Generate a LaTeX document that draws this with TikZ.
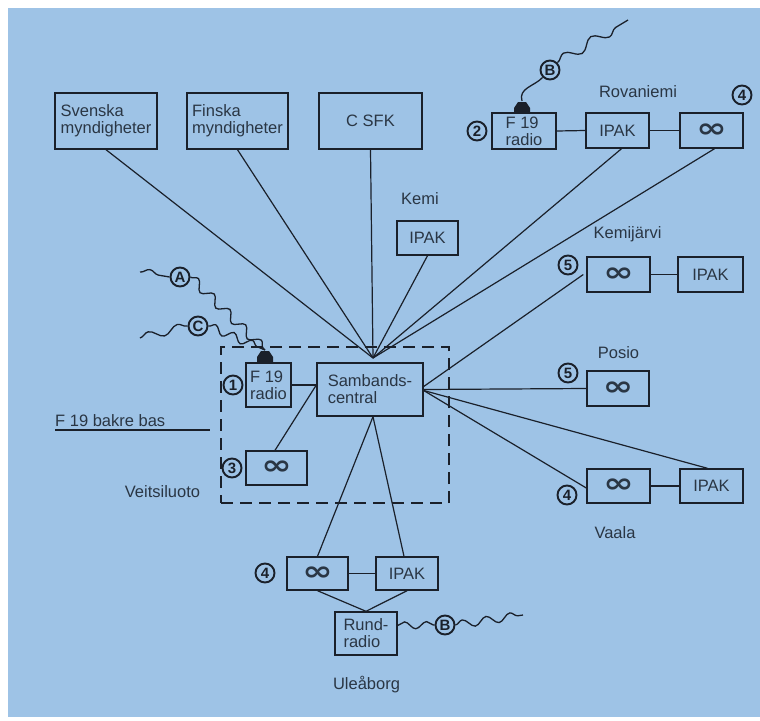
\documentclass[tikz,border=0pt]{standalone}
\usepackage{fontspec}
\usepackage{graphicx}
\setmainfont{Liberation Sans}
\newfontfamily\djv{DejaVu Sans}
\usetikzlibrary{decorations.pathmorphing}
\definecolor{bg}{RGB}{158,195,230}
\definecolor{linec}{RGB}{26,32,42}
\definecolor{txtc}{RGB}{42,54,68}
\newcommand\lblfont{\fontsize{16.5}{17}\selectfont}
\newcommand\infsym{\scalebox{1.35}[1]{\djv\bfseries\fontsize{27}{27}\selectfont ∞}}
\begin{document}
\begin{tikzpicture}[x=1pt,y=-1pt,
 box/.style={draw=linec, line width=1.4pt, inner sep=0pt, align=left, font=\lblfont, text=txtc},
 lbl/.style={font=\lblfont, text=txtc, inner sep=0pt, anchor=base},
 conn/.style={draw=linec, line width=1.2pt},
 circ/.style={circle, draw=linec, line width=1.9pt, inner sep=0pt, minimum size=19pt, font=\bfseries\fontsize{15}{15}\selectfont, text=linec},
 wave/.style={draw=linec, line width=1.3pt, decorate, decoration={snake, amplitude=4.5pt, segment length=22pt}},
]
\useasboundingbox (0,0) rectangle (760,720);
\fill[white] (0,0) rectangle (760,720);
\fill[bg] (8,8) rectangle (760,717);

% dashed base
\node[draw=linec, line width=1.3pt, dash pattern=on 12pt off 7pt, minimum width=228pt, minimum height=156pt, inner sep=0pt] (vbase) at (335,425) {};

% top boxes
\node[box, minimum width=102pt, minimum height=56pt] (sv) at (106,121) {Svenska\\myndigheter};
\node[box, minimum width=101pt, minimum height=56pt] (fi) at (237.5,121) {Finska\\myndigheter};
\node[box, minimum width=103pt, minimum height=56pt, align=center] (csfk) at (370.5,121) {C SFK};

% Rovaniemi
\node[box, minimum width=64pt, minimum height=36pt] (rovr) at (524,131) {F 19\\radio};
\node[box, minimum width=63pt, minimum height=35pt] (rovi) at (617.5,130.5) {IPAK};
\node[box, minimum width=63pt, minimum height=35pt] (rovinf) at (711.5,130.5) {\infsym};
\node[lbl] (lrov) at (638,97) {Rovaniemi};

% Kemi
\node[box, minimum width=61pt, minimum height=34pt] (kemi) at (427.5,238) {IPAK};
\node[lbl] (lkemi) at (420,204) {Kemi};

% Kemijarvi
\node[box, minimum width=63pt, minimum height=35pt] (kjinf) at (618.5,274.5) {\infsym};
\node[box, minimum width=65pt, minimum height=35pt] (kji) at (710.5,274.5) {IPAK};
\node[lbl] (lkj) at (627.5,238) {Kemijärvi};

% Posio
\node[box, minimum width=62pt, minimum height=35pt] (posinf) at (618,388.5) {\infsym};
\node[lbl] (lpos) at (618.5,358) {Posio};

% Vaala
\node[box, minimum width=63pt, minimum height=34pt] (vainf) at (618.5,486) {\infsym};
\node[box, minimum width=63pt, minimum height=34pt] (vai) at (711.5,486) {IPAK};
\node[lbl] (lvaa) at (615,538) {Vaala};

% Veitsiluoto
\node[box, minimum width=45pt, minimum height=44pt] (vr) at (268.5,385) {F 19\\radio};
\node[box, minimum width=106pt, minimum height=53pt] (sc) at (370,389.5) {Sambands-\\central};
\node[box, minimum width=61pt, minimum height=34pt] (vinf) at (276.5,468) {\infsym};
\node[lbl] (lvei) at (162.5,497) {Veitsiluoto};
\node[lbl, anchor=base west] (bakre) at (55,426) {F 19 bakre bas};
\coordinate (bb0) at (55,430);
\coordinate (bb1) at (210,430);
\draw[conn] (bb0) -- (bb1);

% Uleaborg
\node[box, minimum width=61pt, minimum height=33pt] (uinf) at (317.5,573.5) {\infsym};
\node[box, minimum width=62pt, minimum height=33pt] (ui) at (407,573.5) {IPAK};
\node[box, minimum width=62pt, minimum height=43pt] (rr) at (366,633.5) {Rund-\\radio};
\node[lbl] (lule) at (366.5,689) {Uleåborg};

% circled numbers
\node[circ] (n1) at (233,385) {1};
\node[circ] (n2) at (477,131) {2};
\node[circ] (n3) at (232,468) {3};
\node[circ] (n4a) at (742,95) {4};
\node[circ] (n5a) at (568,265) {5};
\node[circ] (n5b) at (568,373) {5};
\node[circ] (n4b) at (567,495) {4};
\node[circ] (n4c) at (265,573) {4};

% hub
\coordinate (hub) at (373,358);
\draw[conn] (sv.south) -- (hub);
\draw[conn] (fi.south) -- (hub);
\draw[conn] (csfk.south) -- (hub);
\draw[conn] (kemi.south) -- (hub);
\draw[conn] ([xshift=4pt]rovi.south) -- (hub);
\draw[conn] ([xshift=3pt]rovinf.south) -- (hub);
\draw[conn] ([yshift=3pt]sc.east) -- ([xshift=-3pt]kjinf.west);
\draw[conn] (sc.east) -- (posinf.west);
\draw[conn] ([yshift=-1pt]sc.east) -- ([yshift=-2pt]vainf.west);
\draw[conn] ([yshift=-1pt]sc.east) -- ([xshift=-4pt]vai.north);
\draw[conn] ([xshift=3pt]sc.south) -- (uinf.north);
\draw[conn] ([xshift=3pt]sc.south) -- ([xshift=-3pt]ui.north);
\draw[conn] (vr.east) -- (vr.east -| sc.west);
\draw[conn] ([xshift=-1.5pt]vinf.north) -- (vr.east -| sc.west);

% chains
\draw[conn] (rovr.east) -- (rovi.west);
\draw[conn] (rovi.east) -- (rovinf.west);
\draw[conn] (kjinf.east) -- (kji.west);
\draw[conn] (vainf.east) -- (vai.west);
\draw[conn] (uinf.east) -- (ui.west);
\draw[conn] (uinf.south) -- (rr.north) -- (ui.south);

% antennas
\fill[linec] (514,113) -- (530,113) -- (530,108) -- (526,102) -- (518,102) -- (514,108) -- cycle;
\coordinate (ant1top) at (522,101);
\fill[linec] (257,362) -- (273,362) -- (273,357) -- (269,351) -- (261,351) -- (257,357) -- cycle;
\coordinate (ant2top) at (265,350);

% waves
\coordinate (wA0) at (140,272);
\node[circ] (A) at (180,277) {A};
\draw[wave, decoration={snake, amplitude=4pt, segment length=30pt}] (wA0) -- (A.west);
\draw[wave] (A.east) -- (ant2top);
\coordinate (wC0) at (140,338);
\node[circ] (C) at (198,326) {C};
\draw[wave, decoration={snake, amplitude=4pt, segment length=30pt}] (wC0) -- (C.west);
\draw[wave, decoration={snake, amplitude=4pt, segment length=20pt}] (C.east) -- (ant2top);

\node[circ] (Bt) at (550,70) {B};
\draw[conn, line width=1.3pt] (ant1top) .. controls (518,88) and (535,86) .. (Bt.south west);
\coordinate (wBt1) at (628,20);
\draw[wave, decoration={snake, amplitude=5pt, segment length=32pt}] (Bt.north east) -- (wBt1);

\node[circ] (Bb) at (445,625) {B};
\draw[wave, decoration={snake, amplitude=3.5pt, segment length=22pt}] ([yshift=8pt]rr.east) -- (Bb.west);
\coordinate (wBb1) at (523,615);
\draw[wave, decoration={snake, amplitude=4pt, segment length=24pt}] (Bb.east) -- (wBb1);
\end{tikzpicture}
\end{document}
